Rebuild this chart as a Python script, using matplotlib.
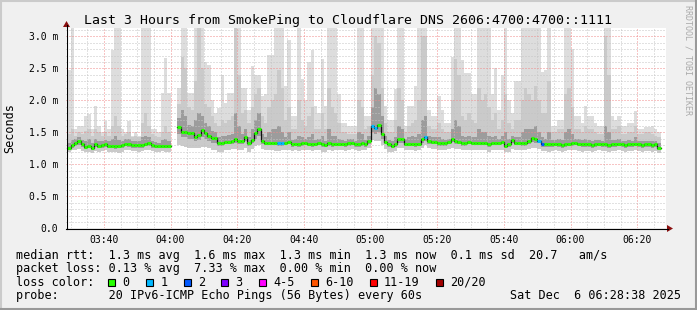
import numpy as np
import matplotlib
matplotlib.use("Agg")
import matplotlib.pyplot as plt
from matplotlib.patches import Rectangle, Polygon
from matplotlib.lines import Line2D

plt.rcParams['font.family'] = ['DejaVu Sans Mono']

W, H = 697, 310

title = "Last 3 Hours from SmokePing to Cloudflare DNS 2606:4700:4700::1111"
first_sample = "03:29"      # one sample per minute
view_start = "03:28:38"
view_hours = 3
stamp = "Sat Dec  6 06:28:38 2025"

# median rtt per minute (ms), None = no data
med = [1.26, 1.30, 1.33, 1.36, 1.31, 1.27, 1.29, 1.26, 1.31, 1.29,
       1.30, 1.31, 1.29, 1.29, 1.28, 1.29, 1.30, 1.32, 1.31, 1.30,
       1.30, 1.30, 1.30, 1.32, 1.33, 1.30, 1.28, 1.28, 1.29, 1.28,
       1.28, None, None, 1.59, 1.51, 1.51, 1.49, 1.49, 1.43, 1.46,
       1.53, 1.49, 1.45, 1.41, 1.41, 1.33, 1.33, 1.35, 1.35, 1.37,
       1.39, 1.37, 1.37, 1.43, 1.33, 1.38, 1.49, 1.55, 1.36, 1.34,
       1.34, 1.34, 1.34, 1.33, 1.33, 1.34, 1.35, 1.31, 1.32, 1.31,
       1.33, 1.34, 1.32, 1.31, 1.32, 1.34, 1.31, 1.30, 1.33, 1.31,
       1.32, 1.32, 1.32, 1.31, 1.33, 1.34, 1.31, 1.31, 1.33, 1.31,
       1.37, 1.60, 1.57, 1.61, 1.48, 1.35, 1.31, 1.29, 1.31, 1.40,
       1.39, 1.32, 1.32, 1.32, 1.31, 1.32, 1.39, 1.43, 1.36, 1.35,
       1.35, 1.33, 1.33, 1.33, 1.35, 1.40, 1.36, 1.35, 1.33, 1.33,
       1.35, 1.34, 1.34, 1.34, 1.34, 1.34, 1.31, 1.34, 1.34, 1.34,
       1.35, 1.29, 1.31, 1.38, 1.34, 1.34, 1.33, 1.33, 1.37, 1.41,
       1.39, 1.37, 1.31, 1.31, 1.31, 1.31, 1.32, 1.31, 1.30, 1.31,
       1.32, 1.33, 1.34, 1.32, 1.31, 1.31, 1.31, 1.30, 1.31, 1.32,
       1.31, 1.31, 1.30, 1.31, 1.31, 1.32, 1.31, 1.30, 1.31, 1.31,
       1.32, 1.31, 1.30, 1.31, 1.31, 1.30, 1.31, 1.26]

# slowest ping of each round (ms)
ping_max = [2.48, 3.13, 1.55, 1.60, 1.60, 1.75, 1.78, 1.55, 1.91, 1.60,
            1.50, 1.67, 1.55, 2.78, 3.13, 3.13, 1.55, 1.50, 1.67, 1.45,
            1.50, 1.45, 3.13, 3.13, 3.13, 1.55, 1.55, 1.50, 2.12, 2.66,
            2.12, None, None, 2.20, 3.13, 3.13, 2.12, 2.12, 3.13, 3.13,
            3.13, 2.60, 2.55, 2.00, 1.80, 1.88, 2.40, 1.96, 2.11, 2.11,
            3.13, 3.13, 2.19, 2.19, 1.85, 2.54, 2.40, 2.40, 2.07, 2.10,
            2.71, 2.71, 3.13, 3.13, 3.13, 2.22, 2.95, 1.75, 1.75, 3.13,
            2.33, 2.00, 2.60, 2.78, 1.91, 1.80, 2.64, 1.91, 3.13, 3.13,
            3.13, 2.10, 1.65, 1.65, 1.60, 1.60, 1.60, 3.13, 3.13, 1.75,
            1.75, 3.13, 3.13, 3.13, 3.13, 1.91, 1.70, 1.70, 2.17, 3.13,
            3.13, 1.60, 1.91, 1.91, 2.22, 3.13, 3.13, 3.13, 1.85, 1.75,
            1.75, 2.07, 1.85, 1.65, 1.65, 2.68, 3.13, 3.13, 2.63, 2.42,
            2.42, 2.10, 2.10, 3.13, 3.13, 3.13, 3.13, 2.10, 2.50, 1.85,
            2.40, 3.13, 2.00, 1.80, 2.30, 2.30, 3.13, 3.13, 3.13, 3.13,
            3.13, 3.13, 2.45, 2.48, 3.13, 1.60, 1.60, 1.69, 1.69, 3.13,
            3.13, 2.80, 1.75, 1.75, 1.65, 1.91, 1.75, 1.75, 1.65, 1.60,
            1.60, 3.13, 3.13, 1.75, 1.70, 1.75, 1.60, 1.60, 1.65, 1.65,
            1.84, 1.55, 1.55, 1.58, 1.58, 1.60, 1.55, 1.50]

# roughly the 18th of 20 pings
ping_p90 = [1.48, 1.55, 1.45, 1.50, 1.48, 1.52, 1.55, 1.45, 1.55, 1.50,
            1.45, 1.50, 1.45, 1.60, 1.75, 1.60, 1.45, 1.48, 1.50, 1.42,
            1.45, 1.42, 1.65, 1.80, 1.60, 1.48, 1.45, 1.42, 1.50, 1.60,
            1.50, None, None, 1.95, 2.68, 2.50, 1.90, 1.85, 2.30, 3.13,
            2.50, 1.95, 1.90, 1.75, 1.65, 1.60, 1.70, 1.65, 1.70, 1.75,
            3.13, 2.40, 1.80, 1.85, 1.65, 1.90, 2.10, 2.20, 1.75, 1.65,
            1.90, 2.00, 2.10, 2.48, 2.20, 1.70, 1.90, 1.55, 1.55, 2.00,
            1.70, 1.60, 1.75, 1.90, 1.55, 1.55, 1.80, 1.55, 2.20, 1.90,
            1.80, 1.65, 1.50, 1.50, 1.48, 1.48, 1.48, 2.00, 1.90, 1.55,
            1.60, 2.40, 3.00, 2.90, 2.20, 1.65, 1.50, 1.50, 1.70, 2.20,
            2.00, 1.50, 1.60, 1.65, 1.70, 2.00, 3.00, 3.00, 1.60, 1.55,
            1.55, 1.65, 1.55, 1.50, 1.50, 2.00, 2.64, 2.40, 1.75, 1.70,
            1.80, 1.70, 1.65, 2.20, 2.00, 2.10, 1.90, 1.70, 1.80, 1.55,
            1.70, 2.10, 1.65, 1.55, 1.70, 1.70, 2.00, 2.20, 2.10, 2.00,
            2.22, 2.00, 1.80, 1.80, 2.30, 1.50, 1.50, 1.55, 1.55, 2.10,
            2.20, 1.90, 1.55, 1.55, 1.50, 1.60, 1.55, 1.55, 1.50, 1.48,
            1.48, 3.00, 2.40, 1.55, 1.55, 1.60, 1.48, 1.48, 1.50, 1.50,
            1.60, 1.48, 1.48, 1.50, 1.50, 1.48, 1.45, 1.42]

# roughly the 15th of 20 pings
ping_p75 = [1.34, 1.38, 1.40, 1.42, 1.38, 1.36, 1.40, 1.34, 1.40, 1.36,
            1.37, 1.38, 1.36, 1.40, 1.45, 1.38, 1.36, 1.39, 1.40, 1.36,
            1.37, 1.36, 1.42, 1.45, 1.42, 1.37, 1.35, 1.34, 1.38, 1.40,
            1.36, None, None, 1.72, 1.85, 1.75, 1.62, 1.60, 1.70, 1.80,
            1.75, 1.65, 1.60, 1.52, 1.50, 1.42, 1.45, 1.44, 1.46, 1.48,
            1.80, 1.60, 1.48, 1.55, 1.42, 1.55, 1.70, 1.80, 1.48, 1.42,
            1.50, 1.55, 1.55, 1.60, 1.50, 1.42, 1.50, 1.38, 1.40, 1.45,
            1.42, 1.40, 1.42, 1.48, 1.38, 1.40, 1.45, 1.37, 1.55, 1.45,
            1.45, 1.40, 1.38, 1.37, 1.40, 1.40, 1.37, 1.50, 1.48, 1.38,
            1.45, 1.90, 2.20, 2.10, 1.75, 1.45, 1.38, 1.36, 1.42, 1.60,
            1.55, 1.40, 1.42, 1.45, 1.42, 1.48, 1.70, 1.75, 1.45, 1.42,
            1.42, 1.42, 1.40, 1.38, 1.40, 1.55, 1.70, 1.60, 1.45, 1.42,
            1.45, 1.42, 1.42, 1.55, 1.50, 1.50, 1.45, 1.42, 1.45, 1.40,
            1.45, 1.50, 1.40, 1.45, 1.42, 1.42, 1.50, 1.55, 1.55, 1.55,
            1.60, 1.50, 1.42, 1.40, 1.50, 1.38, 1.38, 1.40, 1.38, 1.50,
            1.55, 1.48, 1.40, 1.39, 1.38, 1.40, 1.38, 1.37, 1.38, 1.38,
            1.37, 1.60, 1.50, 1.38, 1.38, 1.40, 1.37, 1.36, 1.38, 1.37,
            1.42, 1.37, 1.36, 1.37, 1.37, 1.36, 1.36, 1.33]

# roughly the 6th of 20 pings
ping_p25 = [1.23, 1.26, 1.28, 1.30, 1.27, 1.24, 1.25, 1.23, 1.27, 1.25,
            1.26, 1.27, 1.25, 1.25, 1.24, 1.25, 1.26, 1.28, 1.27, 1.26,
            1.26, 1.26, 1.26, 1.28, 1.29, 1.26, 1.25, 1.25, 1.25, 1.25,
            1.25, None, None, 1.48, 1.42, 1.42, 1.40, 1.40, 1.36, 1.38,
            1.42, 1.40, 1.37, 1.34, 1.34, 1.29, 1.29, 1.31, 1.31, 1.32,
            1.33, 1.32, 1.32, 1.36, 1.29, 1.33, 1.40, 1.45, 1.32, 1.30,
            1.30, 1.30, 1.30, 1.29, 1.29, 1.30, 1.31, 1.27, 1.28, 1.27,
            1.29, 1.30, 1.28, 1.27, 1.28, 1.30, 1.27, 1.27, 1.29, 1.27,
            1.28, 1.28, 1.28, 1.27, 1.29, 1.30, 1.27, 1.27, 1.29, 1.27,
            1.32, 1.50, 1.48, 1.50, 1.40, 1.31, 1.27, 1.26, 1.27, 1.34,
            1.34, 1.28, 1.28, 1.28, 1.27, 1.28, 1.34, 1.37, 1.32, 1.31,
            1.31, 1.29, 1.29, 1.29, 1.31, 1.35, 1.32, 1.31, 1.29, 1.29,
            1.31, 1.30, 1.30, 1.30, 1.30, 1.30, 1.27, 1.30, 1.30, 1.30,
            1.31, 1.26, 1.27, 1.33, 1.30, 1.30, 1.29, 1.29, 1.32, 1.35,
            1.34, 1.33, 1.27, 1.27, 1.27, 1.27, 1.28, 1.27, 1.26, 1.27,
            1.28, 1.29, 1.30, 1.28, 1.27, 1.27, 1.27, 1.26, 1.27, 1.28,
            1.27, 1.27, 1.26, 1.27, 1.27, 1.28, 1.27, 1.26, 1.27, 1.27,
            1.28, 1.27, 1.26, 1.27, 1.27, 1.26, 1.27, 1.22]

# fastest ping of each round (ms)
ping_min = [1.20, 1.22, 1.23, 1.24, 1.21, 1.19, 1.20, 1.18, 1.21, 1.20,
            1.21, 1.22, 1.19, 1.20, 1.19, 1.18, 1.20, 1.22, 1.22, 1.21,
            1.21, 1.20, 1.21, 1.22, 1.23, 1.21, 1.20, 1.20, 1.21, 1.20,
            1.20, None, None, 1.30, 1.28, 1.27, 1.25, 1.26, 1.25, 1.25,
            1.27, 1.27, 1.25, 1.22, 1.22, 1.20, 1.20, 1.22, 1.22, 1.24,
            1.24, 1.22, 1.23, 1.25, 1.20, 1.24, 1.28, 1.30, 1.24, 1.22,
            1.22, 1.22, 1.21, 1.21, 1.22, 1.23, 1.23, 1.21, 1.22, 1.21,
            1.22, 1.23, 1.22, 1.21, 1.22, 1.23, 1.20, 1.20, 1.22, 1.21,
            1.22, 1.22, 1.22, 1.21, 1.23, 1.24, 1.22, 1.21, 1.23, 1.22,
            1.26, 1.38, 1.36, 1.36, 1.30, 1.24, 1.20, 1.19, 1.21, 1.25,
            1.26, 1.22, 1.22, 1.22, 1.21, 1.22, 1.26, 1.30, 1.25, 1.24,
            1.24, 1.23, 1.23, 1.22, 1.24, 1.26, 1.24, 1.24, 1.22, 1.22,
            1.23, 1.23, 1.23, 1.22, 1.23, 1.23, 1.20, 1.22, 1.23, 1.22,
            1.22, 1.19, 1.20, 1.24, 1.22, 1.22, 1.22, 1.22, 1.24, 1.26,
            1.25, 1.24, 1.21, 1.21, 1.20, 1.21, 1.22, 1.21, 1.20, 1.21,
            1.22, 1.22, 1.23, 1.21, 1.20, 1.21, 1.21, 1.20, 1.21, 1.22,
            1.21, 1.21, 1.20, 1.21, 1.21, 1.22, 1.21, 1.20, 1.21, 1.21,
            1.22, 1.21, 1.20, 1.21, 1.21, 1.20, 1.21, 1.18]

# minutes with lost pings (out of 20)
loss_times = ["04:32", "04:33", "05:00", "05:01", "05:16", "05:50", "05:51"]
loss_counts = [1, 1, 1, 1, 1, 1, 2]

loss_labels = ["0", "1", "2", "3", "4-5", "6-10", "11-19", "20/20"]
loss_upper = [0, 1, 2, 3, 5, 10, 19, 20]
loss_colors = ["#26ff00", "#00b8ff", "#0059ff", "#7e00ff",
               "#ff00ff", "#ff5500", "#ff0000", "#a10000"]

rtt_avg, rtt_max, rtt_min, rtt_now, rtt_sd, am_s = 1.3, 1.6, 1.3, 1.3, 0.1, 20.7
loss_avg, loss_max, loss_min, loss_now = 0.13, 7.33, 0.00, 0.00
probe = "20 IPv6-ICMP Echo Pings (56 Bytes) every 60s"


def to_min(s):
    parts = [int(p) for p in s.split(":")]
    return parts[0] * 60 + parts[1] + (parts[2] / 60 if len(parts) > 2 else 0)


med = np.array(med, dtype=float)
ping_max = np.array(ping_max, dtype=float)
ping_p90 = np.array(ping_p90, dtype=float)
ping_p75 = np.array(ping_p75, dtype=float)
ping_p25 = np.array(ping_p25, dtype=float)
ping_min = np.array(ping_min, dtype=float)

t0 = to_min(first_sample)
t = t0 + np.arange(len(med))
x0 = to_min(view_start)
x1 = x0 + view_hours * 60

lost = np.zeros(len(med), dtype=int)
for s, n in zip(loss_times, loss_counts):
    lost[int(to_min(s) - t0)] = n
line_cols = [loss_colors[np.searchsorted(loss_upper, n)] for n in lost]


def runs(mask):
    idx = np.flatnonzero(mask)
    return np.split(idx, np.flatnonzero(np.diff(idx) > 1) + 1)


def stepped(r, v):
    return np.append(t[r], t[r[-1]] + 1), np.append(v[r], v[r[-1]])


fig = plt.figure(figsize=(W / 100, H / 100), dpi=100, facecolor="#f0f0f0")
# plot area in pixels: x 66..666, y 28..228
ax = fig.add_axes([66 / W, 1 - 228.3 / H, 600 / W, 200 / H])
ax.set_facecolor("white")

ok = ~np.isnan(med)
for r in runs(ok):
    # smoke: outer pair lightest, inner pings darker
    for lo, hi, c in [(ping_min, ping_max, "#dddddd"),
                      (ping_min, ping_p90, "#cacaca"),
                      (ping_p25, ping_p75, "#9c9c9c")]:
        xs, ylo = stepped(r, lo)
        _, yhi = stepped(r, hi)
        ax.fill_between(xs, ylo, yhi, step="post", color=c, lw=0,
                        antialiased=False, zorder=1)
    xs, ym = stepped(r, med)
    ax.step(xs, ym, where="post", color="#101010", lw=0.9, zorder=4)

ax.hlines(med[ok], t[ok], t[ok] + 1, colors=np.array(line_cols)[ok],
          lw=2.2, zorder=5)

ax.set_xlim(x0, x1)
ax.set_ylim(0, 200 / 64)

major_x = np.arange(np.ceil(x0 / 20) * 20, x1, 20)
minor_x = np.arange(np.ceil(x0 / 5) * 5, x1, 5)
ax.set_xticks(major_x)
ax.set_xticks(minor_x, minor=True)
ax.set_xticklabels([f"{int(m) // 60:02d}:{int(m) % 60:02d}" for m in major_x])

major_y = np.arange(0, 3.01, 0.5)
ax.set_yticks(major_y)
ax.set_yticks(np.arange(0, 3.11, 0.1), minor=True)
ax.set_yticklabels(["0.0"] + [f"{v:.1f} m" for v in major_y[1:]])

ax.grid(which="minor", color="#c4c4c4", ls=(0, (1, 2)), lw=0.72, zorder=3)
ax.grid(which="major", color="#f08a8a", ls=(0, (1, 2)), lw=0.72, zorder=3)
ax.set_axisbelow(False)
for g in ax.get_xgridlines() + ax.get_ygridlines():
    g.set_zorder(3)

ax.tick_params(which="both", length=0, labelsize=7, colors="black")
ax.tick_params(axis="x", pad=5)
ax.tick_params(axis="y", pad=5.5)
for s in ["top", "right", "left", "bottom"]:
    ax.spines[s].set_visible(False)


def px(x, y):
    return (x / W, 1 - y / H)


# axes with arrows
fig.add_artist(Line2D([66 / W, 668 / W], [1 - 228.5 / H] * 2, color="black", lw=0.8))
fig.add_artist(Line2D([66.5 / W] * 2, [1 - 228.5 / H, 1 - 25 / H], color="black", lw=0.8))
fig.add_artist(Polygon([px(667, 225), px(673, 228.5), px(667, 232)], closed=True,
                       transform=fig.transFigure, color="#8b1010", lw=0))
fig.add_artist(Polygon([px(63, 27), px(66.5, 21), px(70, 27)], closed=True,
                       transform=fig.transFigure, color="#8b1010", lw=0))

# frame shading
fig.add_artist(Line2D([0, 1], [1 - 1 / H] * 2, color="#cbcbcb", lw=1.5))
fig.add_artist(Line2D([1 / W] * 2, [0, 1], color="#cbcbcb", lw=1.5))
fig.add_artist(Line2D([0, 1], [1 / H] * 2, color="#999999", lw=1.5))
fig.add_artist(Line2D([1 - 1 / W] * 2, [0, 1], color="#999999", lw=1.5))

fig.text(*px(348, 24), title, ha="center", va="baseline", fontsize=9.5)
fig.text(*px(10, 128), "Seconds", rotation=90, ha="center", va="center",
         fontsize=8.5)
fig.text(*px(688, 5), "RRDTOOL / TOBI OETIKER", rotation=270, ha="center",
         va="top", fontsize=6, color="#aaaaaa")

# legend rows
cw = 8.5 * 0.602 * 100 / 72
lx = 16
rows = [258.5, 272.1, 285.7, 299.3]
line1 = (f"median rtt:  {rtt_avg:.1f} ms avg  {rtt_max:.1f} ms max  "
         f"{rtt_min:.1f} ms min  {rtt_now:.1f} ms now  {rtt_sd:.1f} ms sd  "
         f"{am_s:.1f}   am/s")
line2 = (f"packet loss: {loss_avg:.2f} % avg  {loss_max:.2f} % max  "
         f"{loss_min:.2f} % min  {loss_now:.2f} % now")
fig.text(*px(lx, rows[0]), line1, va="baseline", fontsize=8.5)
fig.text(*px(lx, rows[1]), line2, va="baseline", fontsize=8.5)
fig.text(*px(lx, rows[2]), "loss color:", va="baseline", fontsize=8.5)
fig.text(*px(lx, rows[3]), "probe:       " + probe, va="baseline", fontsize=8.5)
fig.text(*px(681, rows[3]), stamp, ha="right", va="baseline", fontsize=8.5)

bx = lx + 13 * cw
for lab, col in zip(loss_labels, loss_colors):
    fig.add_artist(Rectangle(px(bx, rows[2]), 7 / W, 7 / H, transform=fig.transFigure,
                             facecolor=col, edgecolor="black", lw=0.8))
    tx = bx + 2 * cw
    fig.text(*px(tx, rows[2]), lab, va="baseline", fontsize=8.5)
    bx = tx + len(lab) * cw + 16.3

fig.savefig("out.png", dpi=100, facecolor=fig.get_facecolor())
